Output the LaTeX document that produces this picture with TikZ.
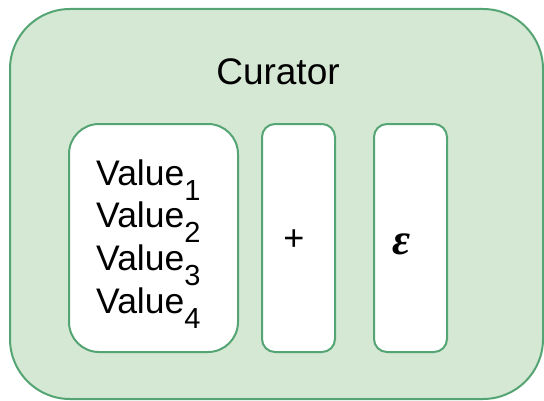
\documentclass[tikz,border=0pt]{standalone}
\usepackage{fontspec}
\setmainfont{Liberation Sans}
\newfontfamily\epsfont{Liberation Serif}
\usepackage{xcolor}
\usepackage{tikz}
\usetikzlibrary{positioning}
\definecolor{greenFill}{HTML}{D5E8D4}
\definecolor{greenStroke}{HTML}{55A574}
\tikzset{
  base/.style={
    rectangle, draw=greenStroke, line width=2pt, inner sep=0pt
  },
  outer box/.style={
    base, fill=greenFill, rounded corners=60pt
  },
  slot box/.style={
    base, fill=white, rounded corners=13pt, minimum height=228pt
  },
  big txt/.style={
    inner sep=0pt, font=\fontsize{36}{40}\selectfont
  }
}
% lowered index after a value
\newcommand{\vidx}[1]{\raisebox{-15pt}{\fontsize{29}{29}\selectfont #1}}

\begin{document}
\begin{tikzpicture}[x=1pt, y=1pt]
    \useasboundingbox (0,0) rectangle (544,400);

    \node[outer box, minimum width=533pt, minimum height=390pt]
      (curbox) at (276.5,196) {};
    \node[big txt, font=\fontsize{37}{40}\selectfont] (curator) at (278,328)
      {Curator};

    % the three slots
    \node[slot box, minimum width=169pt, rounded corners=30pt]
      (valbox) at (153.5,162) {};
    \node[slot box, minimum width=73pt] (plusbox) at (298.5,162) {};
    \node[slot box, minimum width=73pt] (epsbox) at (410.5,162) {};

    \foreach \i in {1,...,4}
      \node[big txt, font=\fontsize{35.5}{40}\selectfont, anchor=base west]
        (val\i) at (96,{215-(\i-1)*42.7}) {Value\vidx{\i}};

    \node[big txt, font=\fontsize{36}{40}\selectfont] (plus) at (294,160) {+};
    \node[big txt, font=\fontsize{44}{40}\epsfont\bfseries\itshape]
      (eps) at (402,156) {ε};

  \end{tikzpicture}
\end{document}
